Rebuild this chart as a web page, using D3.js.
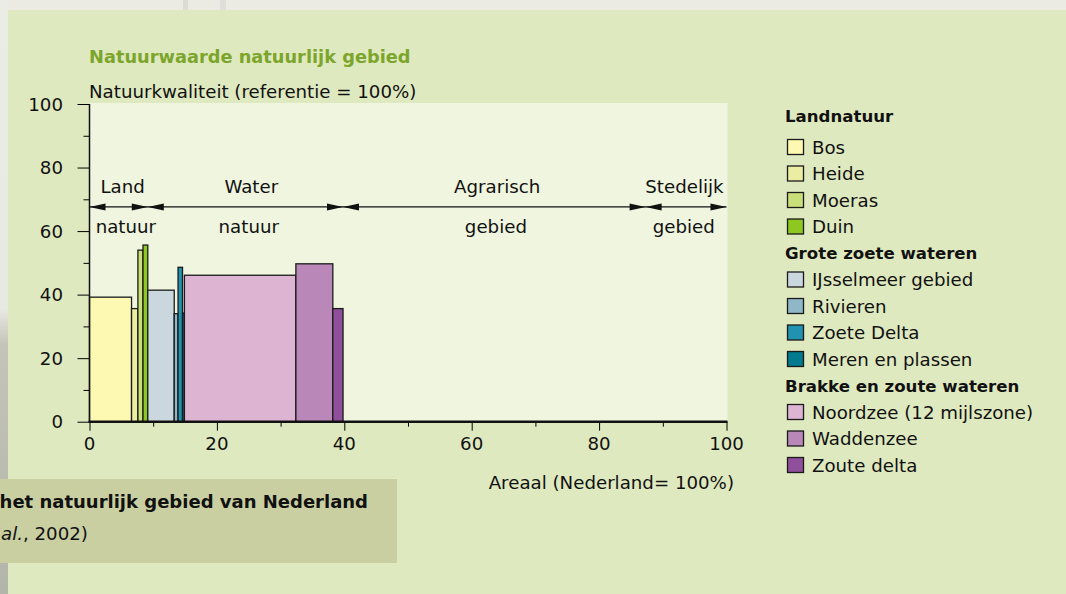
<!DOCTYPE html>
<html>
<head>
<meta charset="utf-8">
<script src="https://cdn.jsdelivr.net/npm/d3@7"></script>
<style>
  html, body { margin: 0; padding: 0; background: #ebebe5; }
  svg { display: block; font-family: "DejaVu Sans", "Noto Sans", sans-serif; }
</style>
</head>
<body>
<svg id="chart" width="1066" height="594"></svg>
<script>
// natuurtypen, van links naar rechts
var categories = ["Bos", "Heide", "Moeras", "Duin",
  "IJsselmeer gebied", "Rivieren", "Zoete Delta", "Meren en plassen",
  "Noordzee (12 mijlszone)", "Waddenzee", "Zoute delta"];
var groups = ["Landnatuur", "Landnatuur", "Landnatuur", "Landnatuur",
  "Grote zoete wateren", "Grote zoete wateren", "Grote zoete wateren", "Grote zoete wateren",
  "Brakke en zoute wateren", "Brakke en zoute wateren", "Brakke en zoute wateren"];
var areaal = [6.6, 1.0, 0.8, 0.75, 4.15, 0.6, 0.7, 0.3, 17.5, 5.8, 1.6];        // % van Nederland
var kwaliteit = [39.2, 35.6, 54.0, 55.6, 41.4, 34.0, 48.6, 34.2, 46.1, 49.7, 35.6]; // % van referentie
var colors = ["#fef9b2", "#eaeda2", "#c9df7a", "#8ec71f",
  "#cad7df", "#8fb7c7", "#2292b1", "#007a8f",
  "#ddb5d3", "#b988b9", "#904f9a"];

// zones boven de staven
var zoneBounds = [0, 9.15, 39.8, 87.3, 100];
var zoneTop = ["Land", "Water", "Agrarisch", "Stedelijk"];
var zoneBottom = ["natuur", "natuur", "gebied", "gebied"];
var zoneTopAt = [5.2, 25.4, 64, 93.4];
var zoneBottomAt = [5.7, 25, 63.8, 93.3];
var zoneLevel = 67.6;

var xTicks = [0, 20, 40, 60, 80, 100];
var yTicks = [0, 20, 40, 60, 80, 100];

var FS = 18.2;
var svg = d3.select("#chart");

// achtergrond
var defs = svg.append("defs");
var lg = defs.append("linearGradient").attr("id", "strip")
  .attr("x1", 0).attr("y1", 0).attr("x2", 0).attr("y2", 1);
lg.append("stop").attr("offset", "0%").attr("stop-color", "#ececE6");
lg.append("stop").attr("offset", "52%").attr("stop-color", "#e9e9e3");
lg.append("stop").attr("offset", "58%").attr("stop-color", "#c4c4b8");
lg.append("stop").attr("offset", "100%").attr("stop-color", "#b4b5aa");
svg.append("rect").attr("x", 0).attr("y", 0).attr("width", 1066).attr("height", 594).attr("fill", "#ebebe4");
svg.append("rect").attr("x", 0).attr("y", 0).attr("width", 8).attr("height", 594).attr("fill", "url(#strip)");
svg.append("rect").attr("x", 183).attr("y", 0).attr("width", 5).attr("height", 10).attr("fill", "#dcdcd4");
svg.append("rect").attr("x", 220).attr("y", 0).attr("width", 6).attr("height", 10).attr("fill", "#dededa");
svg.append("rect").attr("x", 8).attr("y", 10).attr("width", 1058).attr("height", 584).attr("fill", "#dfe9c0");

var x = d3.scaleLinear().domain([0, 100]).range([89.5, 726.5]);
var y = d3.scaleLinear().domain([0, 100]).range([421.7, 104]);

// plot vlak
svg.append("rect").attr("x", x(0)).attr("y", y(100) - 1)
  .attr("width", x(100) - x(0) + 1).attr("height", y(0) - y(100) + 1)
  .attr("fill", "#eff5de");

// titels
svg.append("text").attr("x", 89).attr("y", 63)
  .attr("font-size", 17.8).attr("font-weight", "bold").attr("fill", "#7ca52b")
  .text("Natuurwaarde natuurlijk gebied");
svg.append("text").attr("x", 89).attr("y", 98)
  .attr("font-size", FS).attr("fill", "#111")
  .text("Natuurkwaliteit (referentie = 100%)");
svg.append("text").attr("x", 734).attr("y", 489).attr("text-anchor", "end")
  .attr("font-size", FS).attr("fill", "#111")
  .text("Areaal (Nederland= 100%)");

// staven
var starts = [];
var acc = 0;
areaal.forEach(function(a) { starts.push(acc); acc += a; });

svg.append("g").selectAll("rect").data(categories).enter().append("rect")
  .attr("x", function(d, i) { return x(starts[i]); })
  .attr("y", function(d, i) { return y(kwaliteit[i]); })
  .attr("width", function(d, i) { return x(starts[i] + areaal[i]) - x(starts[i]); })
  .attr("height", function(d, i) { return y(0) - y(kwaliteit[i]); })
  .attr("fill", function(d, i) { return colors[i]; })
  .attr("stroke", "#1a1a1a").attr("stroke-width", 1.3);

// assen
var yAxis = d3.axisLeft(y).tickValues(d3.range(0, 101, 10)).tickSize(12).tickFormat("");
var gy = svg.append("g").attr("transform", "translate(" + x(0) + ",0)").call(yAxis);
gy.selectAll(".tick line").attr("x2", function(d) { return d % 20 ? -6 : -12; });
gy.select(".domain").remove();
svg.append("line").attr("x1", x(0)).attr("x2", x(0)).attr("y1", y(100)).attr("y2", y(0))
  .attr("stroke", "#111").attr("stroke-width", 1.5);
svg.append("g").selectAll("text").data(yTicks).enter().append("text")
  .attr("x", 63).attr("y", function(d) { return y(d) + 6.5; })
  .attr("text-anchor", "end").attr("font-size", FS).attr("fill", "#111")
  .text(function(d) { return d; });

var xAxis = d3.axisBottom(x).tickValues(d3.range(0, 101, 10)).tickSize(9).tickFormat("");
var gx = svg.append("g").attr("transform", "translate(0," + y(0) + ")").call(xAxis);
gx.selectAll(".tick line").attr("y2", function(d) { return d % 20 ? 5 : 9; });
gx.select(".domain").remove();
svg.append("line").attr("x1", x(0) - 1).attr("x2", x(100) + 1).attr("y1", y(0)).attr("y2", y(0))
  .attr("stroke", "#111").attr("stroke-width", 2.5);
svg.append("g").selectAll("text").data(xTicks).enter().append("text")
  .attr("x", function(d) { return x(d); }).attr("y", 450)
  .attr("text-anchor", "middle").attr("font-size", FS).attr("fill", "#111")
  .text(function(d) { return d; });

// zone pijlen
var ay = y(zoneLevel);
var gz = svg.append("g");
gz.append("line").attr("x1", x(0)).attr("x2", x(100)).attr("y1", ay).attr("y2", ay)
  .attr("stroke", "#111").attr("stroke-width", 1.3);
zoneBounds.slice(0, -1).forEach(function(b, i) {
  var a1 = x(b), a2 = x(zoneBounds[i + 1]);
  gz.append("path").attr("d", "M" + a1 + "," + ay + "l16,-3.5l0,7z").attr("fill", "#111");
  gz.append("path").attr("d", "M" + a2 + "," + ay + "l-16,-3.5l0,7z").attr("fill", "#111");
});
gz.selectAll("text.top").data(zoneTop).enter().append("text")
  .attr("x", function(d, i) { return x(zoneTopAt[i]); }).attr("y", ay - 13.5)
  .attr("text-anchor", "middle").attr("font-size", FS).attr("fill", "#111")
  .text(function(d) { return d; });
gz.selectAll("text.bot").data(zoneBottom).enter().append("text")
  .attr("x", function(d, i) { return x(zoneBottomAt[i]); }).attr("y", ay + 26.5)
  .attr("text-anchor", "middle").attr("font-size", FS).attr("fill", "#111")
  .text(function(d) { return d; });

// legenda
var lgd = svg.append("g");
var ly = 116, lastGroup = null;
categories.forEach(function(c, i) {
  if (groups[i] !== lastGroup) {
    lgd.append("text").attr("x", 785).attr("y", ly + 6)
      .attr("font-size", 16.6).attr("font-weight", "bold").attr("fill", "#111")
      .text(groups[i]);
    ly += lastGroup === null ? 31 : 26.5;
    lastGroup = groups[i];
  }
  lgd.append("rect").attr("x", 787.5).attr("y", ly - 7.5).attr("width", 16).attr("height", 15)
    .attr("fill", colors[i]).attr("stroke", "#1a1a1a").attr("stroke-width", 1.3);
  lgd.append("text").attr("x", 812).attr("y", ly + 6.5)
    .attr("font-size", FS).attr("fill", "#111").text(c);
  ly += 26.5;
});

// onderschrift (links afgesneden in het origineel)
svg.append("rect").attr("x", 0).attr("y", 479).attr("width", 397).attr("height", 84).attr("fill", "#c9cfa1");
svg.append("text").attr("x", 368).attr("y", 508).attr("text-anchor", "end")
  .attr("font-size", 18).attr("font-weight", "bold").attr("fill", "#111")
  .text("het natuurlijk gebied van Nederland");
var src = svg.append("text").attr("x", 1).attr("y", 540)
  .attr("font-size", FS).attr("fill", "#111");
src.append("tspan").attr("font-style", "italic").text("al.");
src.append("tspan").text(", 2002)");
</script>
</body>
</html>
